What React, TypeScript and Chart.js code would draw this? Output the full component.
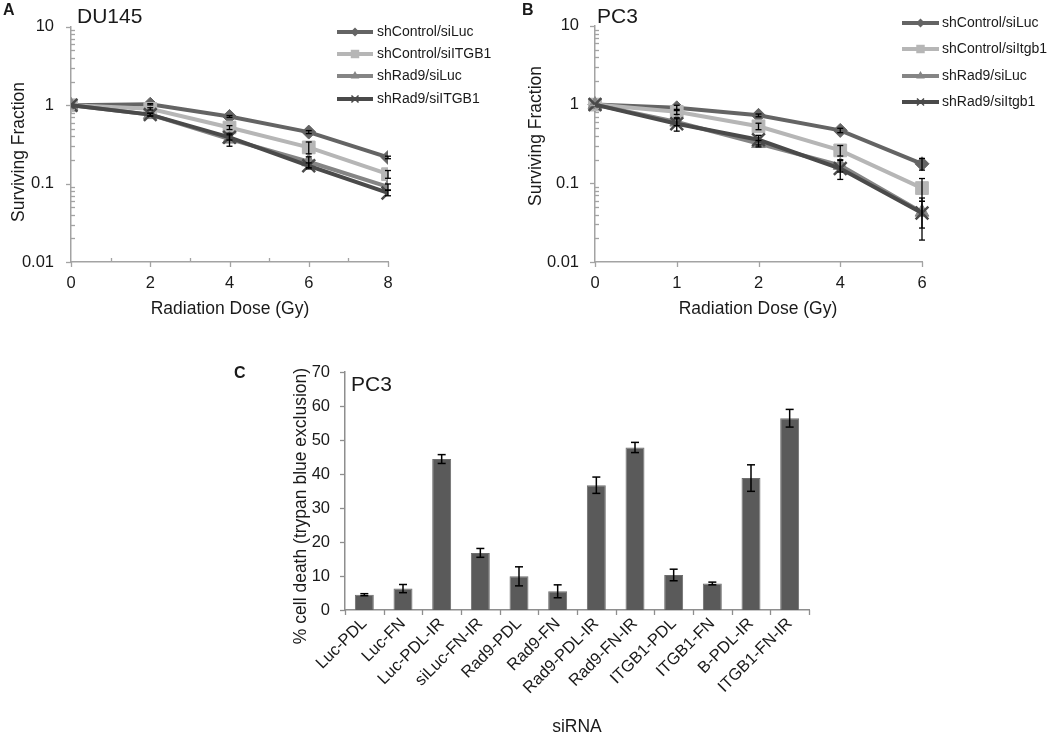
import React, { useEffect, useRef } from 'react';
import { Chart, registerables } from 'chart.js';

Chart.register(...registerables);

const FONT = '"Liberation Sans", Arial, Helvetica, sans-serif';
const TEXT = '#1a1a1a';

// ---------- Panel A: DU145 survival ----------
const doseA = [0, 2, 4, 6, 8];
const xTickLabelsA = [0, 2, 4, 6, 8];
const namesA = ['shControl/siLuc', 'shControl/siITGB1', 'shRad9/siLuc', 'shRad9/siITGB1'];
const duCtrlLuc = [1, 1.03, 0.72, 0.455, 0.216];
const duCtrlItgb1 = [1, 0.9, 0.52, 0.29, 0.132];
const duRad9Luc = [1, 0.76, 0.37, 0.19, 0.091];
const duRad9Itgb1 = [1, 0.76, 0.39, 0.169, 0.076];
const duCtrlLucErr = [0, 0.02, 0.02, 0.02, 0.008];
const duCtrlItgb1Err = [0, 0.03, 0.03, 0.05, 0.015];
const duRad9LucErr = [0, 0.03, 0.07, 0.03, 0.008];
const duRad9Itgb1Err = [0, 0.03, 0.03, 0.015, 0.006];

// ---------- Panel B: PC3 survival ----------
const doseB = ['0', '1', '2', '4', '6'];
const namesB = ['shControl/siLuc', 'shControl/siItgb1', 'shRad9/siLuc', 'shRad9/siItgb1'];
const pcCtrlLuc = [1, 0.91, 0.73, 0.47, 0.177];
const pcCtrlItgb1 = [1, 0.81, 0.53, 0.262, 0.087];
const pcRad9Luc = [1, 0.6, 0.32, 0.169, 0.043];
const pcRad9Itgb1 = [1, 0.57, 0.357, 0.154, 0.042];
const pcCtrlLucErr = [0, 0.07, 0.03, 0.03, 0.03];
const pcCtrlItgb1Err = [0, 0.06, 0.05, 0.04, 0.028];
const pcRad9LucErr = [0, 0.06, 0.03, 0.03, 0.016];
const pcRad9Itgb1Err = [0, 0.11, 0.05, 0.042, 0.023];

const logTicks = [0.01, 0.1, 1, 10];

// ---------- Panel C: PC3 cell death ----------
const siRNA = [
  'Luc-PDL', 'Luc-FN', 'Luc-PDL-IR', 'siLuc-FN-IR', 'Rad9-PDL', 'Rad9-FN',
  'Rad9-PDL-IR', 'Rad9-FN-IR', 'ITGB1-PDL', 'ITGB1-FN', 'B-PDL-IR', 'ITGB1-FN-IR',
];
const cellDeath = [4.5, 6.3, 44.4, 16.8, 9.9, 5.5, 36.7, 47.8, 10.3, 7.8, 38.8, 56.4];
const cellDeathErr = [0.3, 1.2, 1.3, 1.3, 2.8, 1.9, 2.4, 1.5, 1.7, 0.4, 3.9, 2.6];
const yTicksC = [0, 10, 20, 30, 40, 50, 60, 70];

// ---------- styles ----------
const seriesColors = ['#646464', '#b6b6b6', '#858585', '#4a4a4a'];
const seriesPointStyles = ['rectRot', 'rect', 'triangle', 'crossRot'];
const seriesRadius = [7, 9, 8, 9];
const legendRadius = [4.5, 6, 5, 5];
const AXIS = '#a3a3a3';

function drawText(ctx: CanvasRenderingContext2D, s: string, x: number, y: number, font: string,
  align: CanvasTextAlign = 'left', rot = 0) {
  ctx.save();
  ctx.font = font;
  ctx.fillStyle = TEXT;
  ctx.textAlign = align;
  ctx.textBaseline = 'middle';
  ctx.translate(x, y);
  if (rot) ctx.rotate(rot);
  ctx.fillText(s, 0, 0);
  ctx.restore();
}

function line(ctx: CanvasRenderingContext2D, x1: number, y1: number, x2: number, y2: number) {
  ctx.beginPath();
  ctx.moveTo(x1, y1);
  ctx.lineTo(x2, y2);
  ctx.stroke();
}

function drawMarker(ctx: CanvasRenderingContext2D, style: string, x: number, y: number, r: number, color: string) {
  ctx.save();
  ctx.fillStyle = color;
  ctx.strokeStyle = color;
  ctx.beginPath();
  if (style === 'rectRot') {
    ctx.moveTo(x, y - r); ctx.lineTo(x + r, y); ctx.lineTo(x, y + r); ctx.lineTo(x - r, y); ctx.closePath(); ctx.fill();
  } else if (style === 'rect') {
    const s = r * 0.707; ctx.rect(x - s, y - s, 2 * s, 2 * s); ctx.fill();
  } else if (style === 'triangle') {
    ctx.moveTo(x, y - r); ctx.lineTo(x + r * 0.866, y + r * 0.5); ctx.lineTo(x - r * 0.866, y + r * 0.5); ctx.closePath(); ctx.fill();
  } else {
    const s = r * 0.707; ctx.lineWidth = 1.5;
    ctx.moveTo(x - s, y - s); ctx.lineTo(x + s, y + s); ctx.moveTo(x + s, y - s); ctx.lineTo(x - s, y + s); ctx.stroke();
  }
  ctx.restore();
}

function errorBarPlugin(values: number[][], errs: number[][], cap: number, lw: number) {
  return {
    id: 'errorBars',
    afterDatasetsDraw(chart: any) {
      const ctx = chart.ctx as CanvasRenderingContext2D;
      const ys = chart.scales.y;
      ctx.save();
      ctx.strokeStyle = '#000';
      ctx.lineWidth = lw;
      values.forEach((vals, di) => {
        const meta = chart.getDatasetMeta(di);
        vals.forEach((v, i) => {
          const e = errs[di][i];
          if (!e) return;
          const x = meta.data[i].x;
          const yt = ys.getPixelForValue(v + e);
          const yb = ys.getPixelForValue(v - e);
          line(ctx, x, yt, x, yb);
          line(ctx, x - cap / 2, yt, x + cap / 2, yt);
          line(ctx, x - cap / 2, yb, x + cap / 2, yb);
        });
      });
      ctx.restore();
    },
  };
}

function logYTicks(ctx: CanvasRenderingContext2D, chart: any) {
  const ys = chart.scales.y;
  const left = chart.chartArea.left;
  ctx.strokeStyle = AXIS;
  ctx.lineWidth = 1.3;
  logTicks.forEach((v) => {
    const y = Math.round(ys.getPixelForValue(v)) + 0.5;
    line(ctx, left - 5, y, left, y);
  });
  for (let d = 0; d < logTicks.length - 1; d++) {
    for (let m = 2; m <= 9; m++) {
      const y = Math.round(ys.getPixelForValue(logTicks[d] * m)) + 0.5;
      line(ctx, left, y, left + 4, y);
    }
  }
}

function legendDraw(ctx: CanvasRenderingContext2D, names: string[], rows: number[], x1: number, x2: number, tx: number) {
  rows.forEach((ry, i) => {
    ctx.save();
    ctx.strokeStyle = seriesColors[i];
    ctx.lineWidth = 4;
    line(ctx, x1, ry, x2, ry);
    ctx.restore();
    drawMarker(ctx, seriesPointStyles[i], (x1 + x2) / 2, ry, legendRadius[i], seriesColors[i]);
    drawText(ctx, names[i], tx, ry, `14px ${FONT}`);
  });
}

function lineDatasets(series: number[][], names: string[], xs: (number | string)[], linearX: boolean) {
  return series.map((vals, i) => ({
    label: names[i],
    data: linearX ? vals.map((v, j) => ({ x: xs[j] as number, y: v })) : vals,
    borderColor: seriesColors[i],
    backgroundColor: seriesColors[i],
    borderWidth: 4,
    pointStyle: seriesPointStyles[i],
    pointRadius: seriesRadius[i],
    pointBackgroundColor: seriesColors[i],
    pointBorderColor: seriesColors[i],
    pointBorderWidth: i === 3 ? 2.5 : 1,
    tension: 0,
    order: 3 - i,
  }));
}

const tickFont = { family: FONT, size: 16.5 };

function logYAxis(width: number, padding: number) {
  return {
    type: 'logarithmic',
    min: 0.01,
    max: 10,
    afterBuildTicks: (s: any) => { s.ticks = logTicks.map((v) => ({ value: v })); },
    afterFit: (s: any) => { s.width = width; },
    grid: { display: false, drawTicks: false },
    border: { color: AXIS, width: 1.5 },
    ticks: { font: tickFont, color: TEXT, padding, callback: (v: any) => String(v) },
  };
}

function configA(): any {
  const series = [duCtrlLuc, duCtrlItgb1, duRad9Luc, duRad9Itgb1];
  const errs = [duCtrlLucErr, duCtrlItgb1Err, duRad9LucErr, duRad9Itgb1Err];
  return {
    type: 'line',
    data: { datasets: lineDatasets(series, namesA, doseA, true) },
    options: {
      responsive: false, animation: false, devicePixelRatio: 1,
      layout: { padding: { top: 9, right: 132, left: 0, bottom: 0 } },
      plugins: { legend: { display: false }, tooltip: { enabled: false } },
      scales: {
        x: {
          type: 'linear', min: 0, max: 8,
          afterBuildTicks: (s: any) => { s.ticks = xTickLabelsA.map((v) => ({ value: v })); },
          afterFit: (s: any) => { s.height = 68; },
          grid: { display: false, drawTicks: false },
          border: { color: AXIS, width: 1.5 },
          ticks: { font: tickFont, color: TEXT, padding: 12 },
        },
        y: logYAxis(71, 17),
      },
    },
    plugins: [
      errorBarPlugin(series, errs, 6, 1.3),
      {
        id: 'decorA',
        afterDraw(chart: any) {
          const ctx = chart.ctx as CanvasRenderingContext2D;
          const { left, bottom } = chart.chartArea;
          const xs = chart.scales.x;
          ctx.save();
          logYTicks(ctx, chart);
          for (let v = 0; v <= 8; v++) {
            const x = Math.round(xs.getPixelForValue(v)) + 0.5;
            if (v % 2 === 0) line(ctx, x, bottom, x, bottom + 5);
            else line(ctx, x, bottom - 4, x, bottom);
          }
          ctx.restore();
          drawText(ctx, 'A', 3, 11, `bold 16px ${FONT}`);
          drawText(ctx, 'DU145', left + 6, 17, `21px ${FONT}`);
          drawText(ctx, 'Surviving Fraction', 19, 152, `17.5px ${FONT}`, 'center', -Math.PI / 2);
          drawText(ctx, 'Radiation Dose (Gy)', 230, 309, `17.5px ${FONT}`, 'center');
          legendDraw(ctx, namesA, [32, 54, 76, 99], 337, 373, 377);
        },
      },
    ],
  };
}

function configB(): any {
  const series = [pcCtrlLuc, pcCtrlItgb1, pcRad9Luc, pcRad9Itgb1];
  const errs = [pcCtrlLucErr, pcCtrlItgb1Err, pcRad9LucErr, pcRad9Itgb1Err];
  return {
    type: 'line',
    data: { labels: doseB, datasets: lineDatasets(series, namesB, doseB, false) },
    options: {
      responsive: false, animation: false, devicePixelRatio: 1,
      layout: { padding: { top: 9, right: 128, left: 0, bottom: 0 } },
      plugins: { legend: { display: false }, tooltip: { enabled: false } },
      scales: {
        x: {
          type: 'category', offset: false,
          afterFit: (s: any) => { s.height = 68; },
          grid: { display: false, drawTicks: false, offset: false },
          border: { color: AXIS, width: 1.5 },
          ticks: { font: tickFont, color: TEXT, padding: 12 },
        },
        y: logYAxis(75, 16),
      },
    },
    plugins: [
      errorBarPlugin(series, errs, 6, 1.3),
      {
        id: 'decorB',
        afterDraw(chart: any) {
          const ctx = chart.ctx as CanvasRenderingContext2D;
          const { left, bottom } = chart.chartArea;
          const xs = chart.scales.x;
          ctx.save();
          logYTicks(ctx, chart);
          doseB.forEach((_, i) => {
            const x = Math.round(xs.getPixelForValue(i)) + 0.5;
            line(ctx, x, bottom, x, bottom + 5);
          });
          ctx.restore();
          drawText(ctx, 'B', 2, 11, `bold 16px ${FONT}`);
          drawText(ctx, 'PC3', left + 2, 17, `21px ${FONT}`);
          drawText(ctx, 'Surviving Fraction', 16, 136, `17.5px ${FONT}`, 'center', -Math.PI / 2);
          drawText(ctx, 'Radiation Dose (Gy)', 238, 309, `17.5px ${FONT}`, 'center');
          legendDraw(ctx, namesB, [23, 49, 76, 102], 382, 419, 422);
        },
      },
    ],
  };
}

function configC(): any {
  return {
    type: 'bar',
    data: {
      labels: siRNA,
      datasets: [{
        data: cellDeath,
        backgroundColor: '#5a5a5a',
        borderColor: '#6e6e6e',
        borderWidth: 1,
        barPercentage: 0.49,
        categoryPercentage: 1,
      }],
    },
    options: {
      responsive: false, animation: false, devicePixelRatio: 1,
      layout: { padding: { top: 42, right: 41, left: 0, bottom: 0 } },
      plugins: { legend: { display: false }, tooltip: { enabled: false } },
      scales: {
        x: {
          afterFit: (s: any) => { s.height = 126; },
          grid: { display: false, drawTicks: false },
          border: { color: '#8e8e8e', width: 1.5 },
          ticks: { font: { family: FONT, size: 16.5 }, color: TEXT, padding: 4, autoSkip: false, minRotation: 45, maxRotation: 45 },
        },
        y: {
          min: 0, max: 70,
          afterBuildTicks: (s: any) => { s.ticks = yTicksC.map((v) => ({ value: v })); },
          afterFit: (s: any) => { s.width = 125; },
          grid: { display: false, drawTicks: false },
          border: { color: '#8e8e8e', width: 1.5 },
          ticks: { font: { family: FONT, size: 16.5 }, color: TEXT, padding: 15 },
        },
      },
    },
    plugins: [
      errorBarPlugin([cellDeath], [cellDeathErr], 8, 1.5),
      {
        id: 'decorC',
        afterDraw(chart: any) {
          const ctx = chart.ctx as CanvasRenderingContext2D;
          const { left, right, bottom } = chart.chartArea;
          const ys = chart.scales.y;
          ctx.save();
          ctx.strokeStyle = '#8e8e8e';
          ctx.lineWidth = 1.3;
          yTicksC.forEach((v) => {
            const y = Math.round(ys.getPixelForValue(v)) + 0.5;
            line(ctx, left - 5, y, left, y);
          });
          const n = siRNA.length;
          for (let k = 0; k <= n; k++) {
            const x = Math.round(left + (k * (right - left)) / n) + 0.5;
            line(ctx, x, bottom, x, bottom + 5);
          }
          ctx.restore();
          drawText(ctx, 'C', 14, 44, `bold 16px ${FONT}`);
          drawText(ctx, 'PC3', left + 6, 55, `21px ${FONT}`);
          drawText(ctx, '% cell death (trypan blue exclusion)', 81, 176, `17.5px ${FONT}`, 'center', -Math.PI / 2);
          drawText(ctx, 'siRNA', (left + right) / 2, 397, `17.5px ${FONT}`, 'center');
        },
      },
    ],
  };
}

export default function App() {
  const aRef = useRef<HTMLCanvasElement>(null);
  const bRef = useRef<HTMLCanvasElement>(null);
  const cRef = useRef<HTMLCanvasElement>(null);

  useEffect(() => {
    const charts = [
      new Chart(aRef.current as HTMLCanvasElement, configA()),
      new Chart(bRef.current as HTMLCanvasElement, configB()),
      new Chart(cRef.current as HTMLCanvasElement, configC()),
    ];
    return () => charts.forEach((c) => c.destroy());
  }, []);

  return (
    <div style={{ position: 'fixed', left: 0, top: 0, width: 1050, height: 736, background: '#ffffff', overflow: 'hidden' }}>
      <canvas ref={aRef} width={520} height={330} style={{ position: 'absolute', left: 0, top: 0 }} />
      <canvas ref={bRef} width={530} height={330} style={{ position: 'absolute', left: 520, top: 0 }} />
      <canvas ref={cRef} width={630} height={406} style={{ position: 'absolute', left: 220, top: 330 }} />
    </div>
  );
}
